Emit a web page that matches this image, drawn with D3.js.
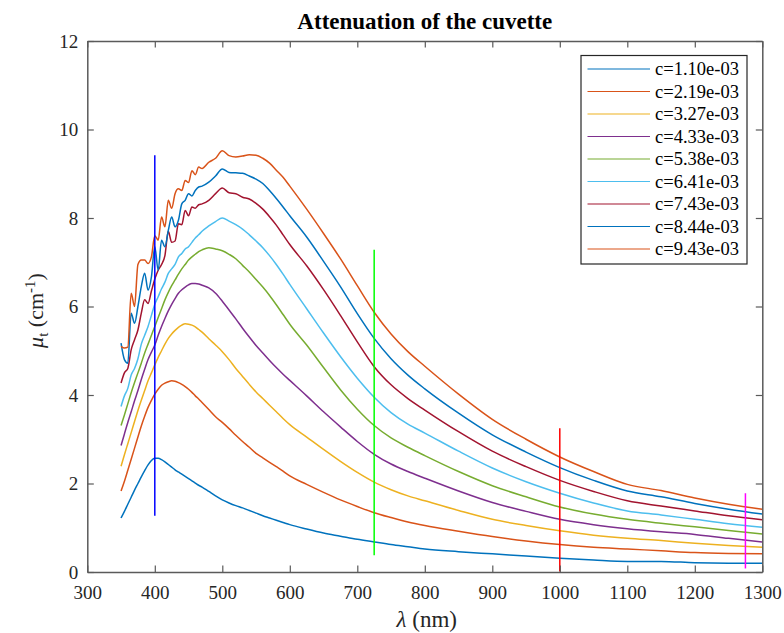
<!DOCTYPE html>
<html><head><meta charset="utf-8">
<script src="https://cdn.jsdelivr.net/npm/d3@7"></script>
<style>
html,body{margin:0;padding:0;background:#fff;}
svg{display:block;}
</style></head>
<body><svg id="chart" width="784" height="633"></svg>
<script>
const titleText = "Attenuation of the cuvette";
const xTicks = [300,400,500,600,700,800,900,1000,1100,1200,1300];
const yTicks = [0,2,4,6,8,10,12];
const seriesLabels = ["c=1.10e-03","c=2.19e-03","c=3.27e-03","c=4.33e-03","c=5.38e-03","c=6.41e-03","c=7.43e-03","c=8.44e-03","c=9.43e-03"];
const wavelengths = [350,355,360,365,370,375,380,385,390,395,400,405,410,415,420,425,430,435,440,445,450,455,460,465,470,
  480,490,500,510,520,530,540,550,560,570,580,590,600,
  625,650,675,700,725,750,775,800,
  850,900,950,1000,1050,1100,1150,1200,1250,1300];
const c1 = [1.22,1.37,1.53,1.69,1.85,2.00,2.15,2.29,2.42,2.52,2.57,2.57,2.54,2.49,2.43,2.37,2.31,2.26,2.21,2.16,2.11,2.06,2.01,1.96,1.92,
  1.82,1.72,1.63,1.56,1.50,1.45,1.39,1.33,1.27,1.22,1.17,1.12,1.07,
  0.97,0.88,0.81,0.74,0.68,0.62,0.57,0.52,
  0.46,0.41,0.36,0.31,0.27,0.24,0.24,0.21,0.20,0.20];
const c2 = [1.83,2.05,2.30,2.55,2.80,3.05,3.30,3.52,3.72,3.88,4.02,4.13,4.22,4.27,4.30,4.32,4.31,4.28,4.24,4.19,4.13,4.06,3.98,3.91,3.83,
  3.67,3.51,3.38,3.24,3.09,2.95,2.82,2.68,2.58,2.48,2.38,2.28,2.17,
  1.98,1.80,1.63,1.48,1.34,1.23,1.13,1.05,
  0.92,0.80,0.70,0.62,0.56,0.52,0.48,0.44,0.42,0.41];
const c3 = [2.39,2.65,2.90,3.15,3.40,3.65,3.88,4.10,4.32,4.50,4.68,4.85,5.00,5.15,5.28,5.38,5.46,5.53,5.58,5.61,5.60,5.58,5.54,5.48,5.42,
  5.27,5.13,4.98,4.80,4.60,4.42,4.24,4.07,3.92,3.77,3.62,3.47,3.33,
  3.05,2.77,2.50,2.25,2.03,1.86,1.72,1.61,
  1.39,1.19,1.05,0.93,0.83,0.76,0.71,0.65,0.60,0.56];
const c4 = [2.86,3.12,3.38,3.62,3.87,4.10,4.35,4.58,4.80,4.97,5.13,5.35,5.55,5.73,5.90,6.05,6.18,6.30,6.38,6.44,6.49,6.52,6.52,6.51,6.48,
  6.42,6.30,6.12,5.92,5.72,5.51,5.31,5.12,4.95,4.78,4.62,4.47,4.33,
  3.98,3.62,3.28,2.95,2.66,2.44,2.27,2.12,
  1.83,1.57,1.37,1.19,1.07,0.98,0.91,0.85,0.76,0.68];
const c5 = [3.31,3.55,3.80,4.05,4.28,4.50,4.72,4.95,5.15,5.35,5.55,5.75,5.95,6.15,6.32,6.47,6.60,6.73,6.85,6.95,7.05,7.12,7.18,7.24,7.28,
  7.33,7.30,7.26,7.18,7.08,6.93,6.78,6.61,6.44,6.25,6.04,5.82,5.60,
  5.13,4.62,4.12,3.68,3.31,3.03,2.82,2.63,
  2.27,1.95,1.70,1.47,1.31,1.19,1.10,1.02,0.94,0.86];
const c6 = [3.74,3.98,4.15,4.45,4.60,4.82,5.15,5.35,5.55,5.80,6.05,6.22,6.40,6.55,6.75,6.85,6.95,7.12,7.20,7.30,7.35,7.45,7.55,7.62,7.70,
  7.82,7.92,8.00,7.93,7.85,7.75,7.62,7.48,7.33,7.15,6.95,6.73,6.50,
  5.95,5.40,4.87,4.38,3.95,3.60,3.34,3.14,
  2.73,2.35,2.04,1.78,1.56,1.38,1.29,1.19,1.09,1.01];
const c7 = [4.27,4.50,4.60,5.02,5.25,5.47,5.85,6.15,6.07,6.35,6.62,6.82,6.95,7.15,7.70,7.45,7.48,7.87,7.85,8.17,8.05,8.25,8.22,8.30,8.32,
  8.40,8.55,8.68,8.57,8.55,8.47,8.43,8.33,8.20,8.03,7.84,7.62,7.40,
  6.92,6.38,5.80,5.20,4.64,4.23,3.92,3.66,
  3.17,2.73,2.38,2.07,1.82,1.61,1.49,1.38,1.27,1.18];
const c8 = [5.17,4.80,4.72,5.85,5.62,6.00,6.45,6.75,6.37,6.67,7.35,6.82,7.50,7.35,7.72,8.02,7.80,7.95,8.32,8.40,8.55,8.50,8.62,8.70,8.72,
  8.81,8.95,9.11,9.03,9.02,9.01,8.95,8.88,8.78,8.62,8.44,8.25,8.05,
  7.57,7.02,6.45,5.84,5.28,4.82,4.45,4.14,
  3.59,3.10,2.71,2.36,2.07,1.83,1.70,1.55,1.42,1.31];
const c9 = [5.10,5.06,5.08,6.30,6.00,6.95,7.05,7.05,6.97,7.12,7.60,7.50,8.02,7.80,8.40,8.22,8.55,8.66,8.62,8.85,8.80,9.07,8.98,9.15,9.12,
  9.26,9.35,9.52,9.41,9.38,9.40,9.43,9.42,9.35,9.24,9.08,8.92,8.72,
  8.20,7.65,7.08,6.47,5.87,5.38,4.98,4.65,
  4.02,3.45,3.00,2.60,2.27,1.98,1.84,1.67,1.53,1.42];
const markerWavelengths = [400,725,1000,1275];
const markerLow = [1.27,0.38,0.01,0.08];
const markerHigh = [9.42,7.28,3.25,1.78];

// styles
const FONT = "'Liberation Serif','DejaVu Serif','Noto Serif','Times New Roman',Times,serif";
const lineColors = ["#0072BD","#D95319","#EDB120","#7E2F8E","#77AC30","#4DBEEE","#A2142F","#0072BD","#D95319"];
const markerColors = ["#0000FF","#00FF00","#FF0000","#FF00FF"];
const allSeries = [c1,c2,c3,c4,c5,c6,c7,c8,c9];

const svg = d3.select("#chart").attr("font-family",FONT);
const L = 87.3, R = 762.3, T = 41, B = 572;
const x = d3.scaleLinear().domain([300,1300]).range([L,R]);
const y = d3.scaleLinear().domain([0,12]).range([B,T]);
const axisColor = "#262626";
const tickLen = 6.5;

svg.append("rect").attr("x",0).attr("y",0).attr("width",784).attr("height",633).attr("fill","#fff");

const line = d3.line().x(d=>x(d[0])).y(d=>y(d[1])).curve(d3.curveMonotoneX);
allSeries.forEach((s,i)=>{
  svg.append("path").datum(wavelengths.map((w,j)=>[w,s[j]]))
    .attr("d",line).attr("fill","none").attr("stroke",lineColors[i]).attr("stroke-width",1.5)
    .attr("stroke-linejoin","round");
});
markerWavelengths.forEach((w,i)=>{
  svg.append("line").attr("x1",x(w)).attr("x2",x(w)).attr("y1",y(markerLow[i])).attr("y2",y(markerHigh[i]))
    .attr("stroke",markerColors[i]).attr("stroke-width",1.5);
});

const gx = svg.append("g").attr("transform",`translate(0,${B})`)
  .call(d3.axisBottom(x).tickValues(xTicks).tickSizeInner(-tickLen).tickSizeOuter(0).tickPadding(14).tickFormat(d3.format("d")));
const gxt = svg.append("g").attr("transform",`translate(0,${T})`)
  .call(d3.axisTop(x).tickValues(xTicks).tickSizeInner(-tickLen).tickSizeOuter(0).tickFormat(""));
const gy = svg.append("g").attr("transform",`translate(${L},0)`)
  .call(d3.axisLeft(y).tickValues(yTicks).tickSizeInner(-tickLen).tickSizeOuter(0).tickPadding(9).tickFormat(d3.format("d")));
const gyr = svg.append("g").attr("transform",`translate(${R},0)`)
  .call(d3.axisRight(y).tickValues(yTicks).tickSizeInner(-tickLen).tickSizeOuter(0).tickFormat(""));
[gx,gxt,gy,gyr].forEach(g=>{
  g.attr("font-family",FONT).attr("font-size",19);
  g.select(".domain").attr("stroke","#5a5a5a").attr("stroke-width",1.5);
  g.selectAll(".tick line").attr("stroke","#5a5a5a").attr("stroke-width",1.2);
  g.selectAll(".tick text").attr("fill",axisColor);
});
gx.selectAll(".tick text").attr("dy","0.71em");

svg.append("text").attr("x",(L+R)/2).attr("y",29).attr("text-anchor","middle")
  .attr("font-size",23).attr("font-weight","bold").attr("fill","#000").text(titleText);

const xl = svg.append("text").attr("x",(L+R)/2+2).attr("y",627).attr("text-anchor","middle")
  .attr("font-size",23).attr("fill",axisColor);
xl.append("tspan").attr("font-style","italic").text("λ");
xl.append("tspan").text(" (nm)");

const yl = svg.append("text").attr("transform",`translate(43,${(T+B)/2+4}) rotate(-90)`).attr("text-anchor","middle")
  .attr("font-size",22).attr("fill",axisColor);
yl.append("tspan").attr("font-style","italic").text("μ");
yl.append("tspan").attr("dy",5).attr("font-size",15).text("t");
yl.append("tspan").attr("dy",-5).text(" (cm");
yl.append("tspan").attr("dy",-8).attr("font-size",15).text("-1");
yl.append("tspan").attr("dy",8).text(")");

const lg = svg.append("g");
lg.append("rect").attr("x",581).attr("y",55.5).attr("width",166).attr("height",208.5)
  .attr("fill","#fff").attr("stroke",axisColor).attr("stroke-width",1.2);
seriesLabels.forEach((lab,i)=>{
  const yy = 69 + i*22.5;
  lg.append("line").attr("x1",587.5).attr("x2",650).attr("y1",yy).attr("y2",yy)
    .attr("stroke",lineColors[i]).attr("stroke-width",1.2);
  lg.append("text").attr("x",655).attr("y",yy).attr("dy","0.34em").attr("font-size",18.5)
    .attr("fill","#000").text(lab);
});
</script></body></html>
